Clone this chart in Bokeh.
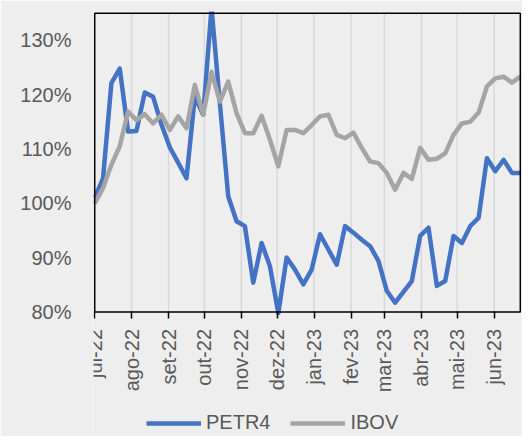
import math
import pandas as pd
from bokeh.plotting import figure
from bokeh.models import Range1d, FixedTicker, Legend, LegendItem
from bokeh.embed import file_html
from bokeh.resources import INLINE

# ---- data ----
dates = pd.date_range("2022-07-01", periods=52, freq="7D")

petr4 = [101.0, 104.6, 122.1, 124.8, 113.2, 113.3, 120.4, 119.6, 114.5, 110.3,
         107.5, 104.6, 119.6, 116.3, 136.0, 118.4, 101.3, 96.7, 95.8, 85.4,
         92.7, 88.4, 79.8, 90.0, 87.8, 85.1, 87.8, 94.3, 91.5, 88.7,
         95.8, 94.6, 93.3, 92.1, 89.4, 83.9, 81.7, 83.7, 85.7, 94.0,
         95.5, 84.8, 85.7, 94.0, 92.7, 95.8, 97.3, 108.3, 105.9, 108.0,
         105.6, 105.6]

ibov = [100.0, 102.8, 107.1, 110.5, 116.9, 115.3, 116.4, 114.7, 116.3, 113.5,
        116.0, 113.8, 121.8, 116.3, 124.2, 118.7, 122.4, 116.6, 112.9, 112.9,
        116.1, 111.7, 106.8, 113.5, 113.5, 112.9, 114.4, 116.0, 116.3, 112.6,
        112.0, 113.0, 110.2, 107.7, 107.4, 105.6, 102.5, 105.6, 104.5, 110.2,
        108.0, 108.2, 109.2, 112.6, 114.7, 115.0, 116.7, 121.5, 123.0, 123.3,
        122.2, 123.3]

month_starts = ["2022-07-01", "2022-08-01", "2022-09-01", "2022-10-01", "2022-11-01",
                "2022-12-01", "2023-01-01", "2023-02-01", "2023-03-01", "2023-04-01",
                "2023-05-01", "2023-06-01"]
month_labels = ["jul-22", "ago-22", "set-22", "out-22", "nov-22", "dez-22",
                "jan-23", "fev-23", "mar-23", "abr-23", "mai-23", "jun-23"]

y_min, y_max = 80, 135
y_ticks = [80, 90, 100, 110, 120, 130]
y_labels = ["80%", "90%", "100%", "110%", "120%", "130%"]

series_names = ["PETR4", "IBOV"]
colors = ["#4472C4", "#A5A5A5"]

# ---- layout (pixels) ----
W, H = 522, 436
TOP, LEFT, RIGHT = 11, 93, 1
PLOT_H = 300                      # height of the boxed plot area
below_px = H - TOP - PLOT_H       # space under the box for labels + legend
units_per_px = (y_max - y_min) / PLOT_H
pad = pd.Timedelta(days=1)

BG = "#eeeeee"
FONT = "Liberation Sans"
TXT = "#595959"

p = figure(width=W, height=H, x_axis_type="datetime",
           output_backend="svg", toolbar_location=None,
           x_range=Range1d(dates[0] - pad, dates[-1] + pad),
           y_range=Range1d(y_min - below_px * units_per_px, y_max + 0.3),
           min_border_left=LEFT, min_border_right=RIGHT, min_border_top=TOP,
           min_border_bottom=0)
p.background_fill_color = BG
p.border_fill_color = BG
p.outline_line_color = None
p.xgrid.grid_line_color = None
p.ygrid.grid_line_color = None

tick_dates = pd.to_datetime(month_starts)

# vertical month gridlines, limited to the boxed area
p.segment(x0=tick_dates, y0=[y_min] * len(tick_dates), x1=tick_dates,
          y1=[y_max] * len(tick_dates), line_color="#d9d9d9", line_width=1.5)

r1 = p.line(dates, petr4, line_color=colors[0], line_width=4.5, line_join="round")
r2 = p.line(dates, ibov, line_color=colors[1], line_width=4.5, line_join="round")

# plot-area box
p.quad(left=[dates[0]], right=[dates[-1]], bottom=[y_min], top=[y_max],
       fill_color=None, line_color="black", line_width=1.5)

tick_ms = [int(pd.Timestamp(d).value // 10**6) for d in month_starts]
p.xaxis.fixed_location = y_min
p.xaxis.ticker = FixedTicker(ticks=tick_ms)
p.xaxis.major_label_overrides = {t: l for t, l in zip(tick_ms, month_labels)}
p.xaxis.major_label_orientation = math.pi / 2
p.xaxis.major_label_text_font = FONT
p.xaxis.major_label_text_font_size = "20px"
p.xaxis.major_label_text_color = TXT
p.xaxis.major_label_standoff = 10
p.xaxis.axis_line_color = None
p.xaxis.major_tick_line_color = "black"
p.xaxis.major_tick_line_width = 1.5
p.xaxis.major_tick_out = 7
p.xaxis.major_tick_in = 0
p.xaxis.minor_tick_line_color = None

p.yaxis.ticker = FixedTicker(ticks=y_ticks)
p.yaxis.major_label_overrides = {t: l for t, l in zip(y_ticks, y_labels)}
p.yaxis.major_label_text_font = FONT
p.yaxis.major_label_text_font_size = "20px"
p.yaxis.major_label_text_color = TXT
p.yaxis.major_label_standoff = 22
p.yaxis.axis_line_color = None
p.yaxis.major_tick_line_color = None
p.yaxis.major_tick_out = 0
p.yaxis.major_tick_in = 0
p.yaxis.minor_tick_line_color = None

legend = Legend(items=[LegendItem(label=series_names[0], renderers=[r1]),
                       LegendItem(label=series_names[1], renderers=[r2])],
                orientation="horizontal", location=(53, 2))
legend.background_fill_alpha = 0
legend.border_line_color = None
legend.label_text_font = FONT
legend.label_text_font_size = "20px"
legend.label_text_color = TXT
legend.glyph_width = 55
legend.glyph_height = 20
legend.label_standoff = 5
legend.spacing = 20
legend.padding = 2
legend.margin = 0
p.add_layout(legend, "center")

open("out.html", "w").write(file_html(p, INLINE))
